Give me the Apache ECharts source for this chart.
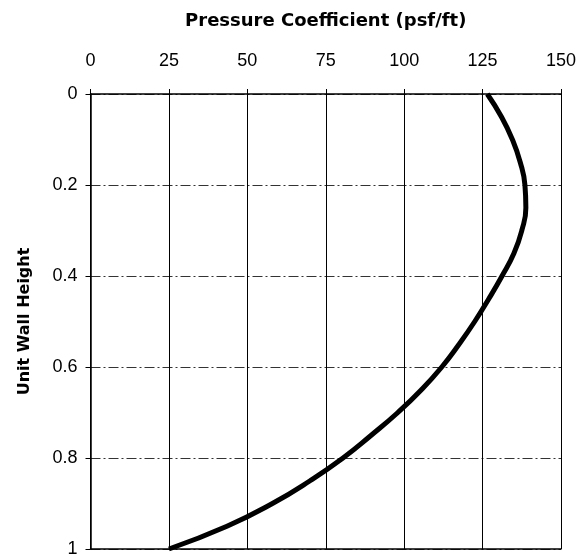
<!DOCTYPE html>
<html>
<head>
<meta charset="utf-8">
<script src="https://cdn.jsdelivr.net/npm/echarts@6/dist/echarts.min.js"></script>
<style>
  html, body { margin: 0; padding: 0; background: #fff; }
  #chart { width: 580px; height: 558px; }
</style>
</head>
<body>
<div id="chart"></div>
<script>
// Unit wall height (0 = top, 1 = bottom) and pressure coefficient (psf/ft)
const wallHeight = [0, 0.05, 0.1, 0.15, 0.2, 0.25, 0.3, 0.35, 0.4, 0.45, 0.5, 0.55, 0.6, 0.65, 0.7, 0.75, 0.8, 0.85, 0.9, 0.95, 1.0];
const pressure   = [126.5, 131, 134.5, 137, 138.5, 138.8, 137.5, 135, 131.2, 127, 122.5, 117.5, 112, 105.5, 98, 89.5, 80.5, 70, 58, 43.5, 25];

const pressureTicks = [0, 25, 50, 75, 100, 125, 150];
const heightTicks = [0, 0.2, 0.4, 0.6, 0.8, 1];

const labelFont = { fontFamily: "'Liberation Sans', Arial, sans-serif", fontSize: 18, color: '#000' };
const titleFont = { fontFamily: "'DejaVu Sans', sans-serif", fontWeight: 'bold', color: '#000' };

const chart = echarts.init(document.getElementById('chart'), null, { renderer: 'canvas' });

chart.setOption({
  backgroundColor: '#fff',
  animation: false,
  grid: { left: 90.5, right: 19, top: 94, bottom: 7, containLabel: false },
  xAxis: [
    {
      type: 'value',
      position: 'top',
      min: pressureTicks[0],
      max: pressureTicks[pressureTicks.length - 1],
      interval: 25,
      name: 'Pressure Coefficient (psf/ft)',
      nameLocation: 'middle',
      nameGap: 64,
      nameTextStyle: Object.assign({ fontSize: 18 }, titleFont),
      axisLine: { show: true, lineStyle: { color: '#000', width: 1.5 } },
      axisTick: { show: true, length: 5, inside: false, lineStyle: { color: '#000', width: 1 } },
      axisLabel: Object.assign({ margin: 24 }, labelFont),
      splitLine: { show: true, lineStyle: { color: '#000', width: 1, type: 'solid' } }
    },
    {
      type: 'value',
      position: 'bottom',
      min: 0,
      max: 150,
      interval: 25,
      axisLine: { show: true, onZero: false, lineStyle: { color: '#000', width: 1.5 } },
      axisTick: { show: false },
      axisLabel: { show: false },
      splitLine: { show: false }
    }
  ],
  yAxis: {
    type: 'value',
    inverse: true,
    min: heightTicks[0],
    max: heightTicks[heightTicks.length - 1],
    interval: 0.2,
    name: 'Unit Wall Height',
    nameLocation: 'middle',
    nameGap: 58,
    nameTextStyle: Object.assign({ fontSize: 16 }, titleFont),
    axisLine: { show: true, lineStyle: { color: '#000', width: 1.5 } },
    axisTick: { show: true, length: 5, lineStyle: { color: '#000', width: 1 } },
    axisLabel: Object.assign({ margin: 13, formatter: v => String(Math.round(v * 10) / 10) }, labelFont),
    splitLine: { show: true, lineStyle: { color: '#333', width: 1, type: [10, 3, 2, 3] } }
  },
  series: [
    {
      type: 'line',
      xAxisIndex: 0,
      data: wallHeight.map((h, i) => [pressure[i], h]),
      smooth: 0.5,
      symbol: 'none',
      lineStyle: { color: '#000', width: 5 }
    }
  ]
});
</script>
</body>
</html>
